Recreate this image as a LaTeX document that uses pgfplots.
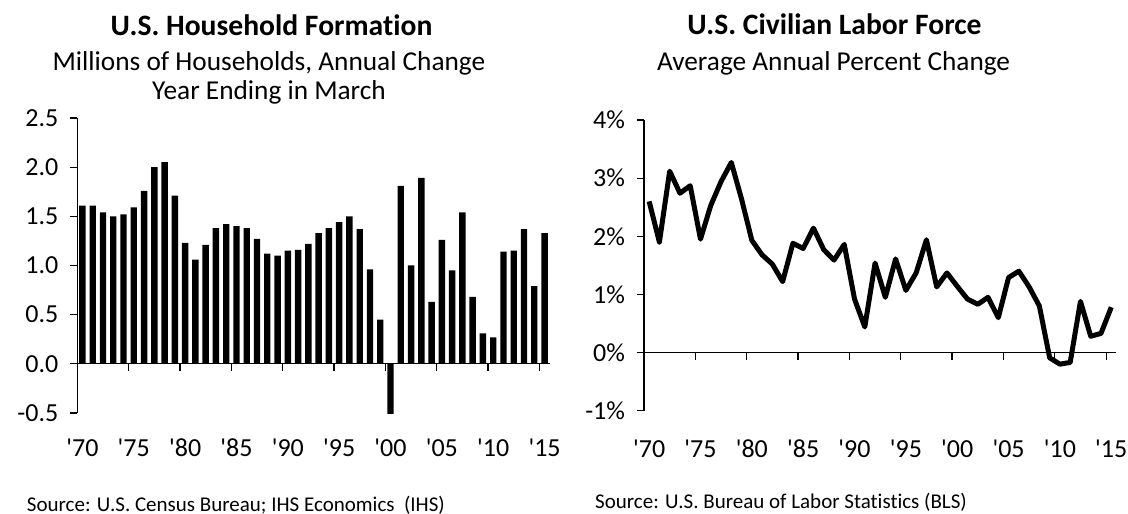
\documentclass[border=0pt]{standalone}
\usepackage{fontspec}
\setmainfont{Carlito}[Ligatures={TeX,NoCommon,NoContextual}, Contextuals=NoAlternate]
\usepackage{pgfplots}
\pgfplotsset{compat=1.18}

\pgfplotstableread{
year val
1970 1.61
1971 1.61
1972 1.54
1973 1.50
1974 1.52
1975 1.59
1976 1.76
1977 2.00
1978 2.05
1979 1.71
1980 1.23
1981 1.06
1982 1.21
1983 1.38
1984 1.42
1985 1.40
1986 1.38
1987 1.27
1988 1.12
1989 1.10
1990 1.15
1991 1.16
1992 1.22
1993 1.33
1994 1.38
1995 1.44
1996 1.50
1997 1.37
1998 0.96
1999 0.45
2000 -0.51
2001 1.81
2002 1.00
2003 1.89
2004 0.63
2005 1.26
2006 0.95
2007 1.54
2008 0.68
2009 0.31
2010 0.27
2011 1.14
2012 1.15
2013 1.37
2014 0.79
2015 1.33
}\households

\pgfplotstableread{
year val
1970 2.60
1971 1.90
1972 3.12
1973 2.74
1974 2.87
1975 1.95
1976 2.53
1977 2.94
1978 3.27
1979 2.64
1980 1.93
1981 1.68
1982 1.52
1983 1.22
1984 1.88
1985 1.79
1986 2.14
1987 1.77
1988 1.59
1989 1.86
1990 0.92
1991 0.44
1992 1.54
1993 0.95
1994 1.61
1995 1.07
1996 1.37
1997 1.94
1998 1.13
1999 1.37
2000 1.14
2001 0.92
2002 0.83
2003 0.95
2004 0.60
2005 1.29
2006 1.40
2007 1.13
2008 0.80
2009 -0.09
2010 -0.20
2011 -0.17
2012 0.88
2013 0.28
2014 0.33
2015 0.78
}\laborforce

\newcommand{\q}{\textquotesingle}
\pgfplotsset{yrchart/.style={
  scale only axis, width=472.4bp, clip=false,
  axis x line=middle, axis y line=left,
  axis line style={-, line width=1.2bp, black},
  tick style={line width=1.2bp, black}, major tick length=7bp, tick align=outside,
  hide obscured y ticks=false, hide obscured x ticks=false,
  xmin=1969.5, xmax=2015.5,
  xtick={1969.5,1974.5,1979.5,1984.5,1989.5,1994.5,1999.5,2004.5,2009.5,2014.5},
  xticklabels={\q70,\q75,\q80,\q85,\q90,\q95,\q00,\q05,\q10,\q15},
  ticklabel style={font=\fontsize{26bp}{30bp}\selectfont},
  yticklabel style={anchor=east, xshift=-8.5bp}}}

\begin{document}
\begin{tikzpicture}
\path[use as bounding box] (0bp,0bp) rectangle (1128bp,514bp);

\begin{axis}[yrchart, at={(77.3bp,101bp)}, anchor=south west, height=295bp,
  ymin=-0.5, ymax=2.5, ytick={-0.5,0,0.5,1,1.5,2,2.5},
  yticklabels={-0.5,0.0,0.5,1.0,1.5,2.0,2.5},
  xticklabel style={anchor=base, xshift=5.13bp, yshift=-86bp}]
  \addplot[ybar, bar width=6.4bp, fill=black, draw=none] table[x=year, y=val] {\households};
\end{axis}

\begin{axis}[yrchart, at={(644bp,103.3bp)}, anchor=south west, height=290.7bp,
  ymin=-1, ymax=4, ytick={-1,0,1,2,3,4},
  yticklabels={-1\%,0\%,1\%,2\%,3\%,4\%},
  xticklabel style={anchor=base, xshift=5.13bp, yshift=-97.7bp}]
  \addplot[black, line width=5bp, line join=round] table[x=year, y=val] {\laborforce};
\end{axis}

\node[anchor=base, font=\fontsize{29.6bp}{34bp}\selectfont\bfseries] at (271.5bp,478bp) {U.S. Household Formation};
\node[anchor=base, font=\fontsize{27.3bp}{31bp}\selectfont] at (269bp,443.5bp) {Millions of Households, Annual Change};
\node[anchor=base, font=\fontsize{27.3bp}{31bp}\selectfont] at (269bp,414bp) {Year Ending in March};
\node[anchor=base, font=\fontsize{29.6bp}{34bp}\selectfont\bfseries] at (834.5bp,479bp) {U.S. Civilian Labor Force};
\node[anchor=base, font=\fontsize{27.3bp}{31bp}\selectfont] at (833.5bp,443bp) {Average Annual Percent Change};

\node[anchor=base west, font=\fontsize{21bp}{25bp}\selectfont, inner sep=0pt] at (26.7bp,3bp) {Source: U.S. Census Bureau; IHS Economics\ \ (IHS)};
\node[anchor=base west, font=\fontsize{21bp}{25bp}\selectfont, inner sep=0pt] at (595bp,6bp) {Source: U.S. Bureau of Labor Statistics (BLS)};
\end{tikzpicture}
\end{document}
